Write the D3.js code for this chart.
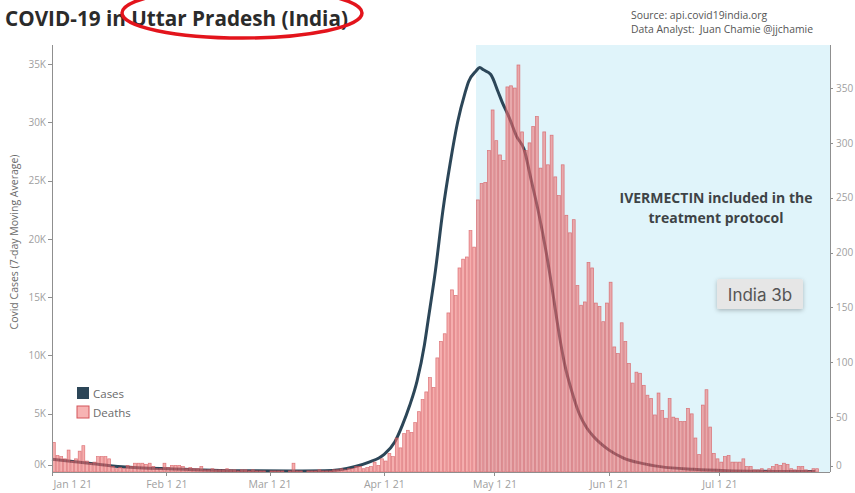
<!DOCTYPE html>
<html lang="en">
<head>
<meta charset="utf-8">
<script src="https://d3js.org/d3.v7.min.js"></script>
<style>
  body { margin: 0; background: #fff; }
  .axis text { fill: #a0a0a0; font: 10px "Open Sans", sans-serif; }
  .axis path, .axis line { stroke: #8f8f8f; shape-rendering: crispEdges; }
</style>
</head>
<body>
<div id="chart"></div>
<script>
// daily deaths, one value per day starting at deathStart
var deathStart = "2021-01-01";
var deaths = [
  27, 15, 14, 12, 20, 10, 12, 19, 24, 10,
  8, 9, 14, 14, 14, 12, 5, 3, 4, 3,
  6, 5, 8, 8, 8, 7, 8, 5, 3, 3,
  8, 4, 6, 6, 6, 5, 3, 4, 3, 3,
  5, 2, 2, 3, 2, 2, 2, 3, 2, 2,
  1, 2, 2, 1, 2, 1, 1, 1, 0, 1,
  1, 1, 1, 0, 1, 8, 1, 1, 0, 1,
  1, 1, 2, 1, 1, 1, 2, 2, 3, 2,
  3, 3, 5, 5, 3, 4, 5, 9, 6, 12,
  10, 17, 14, 31, 22, 35, 38, 36, 45, 55,
  66, 73, 86, 77, 104, 119, 126, 145, 166, 161,
  186, 194, 196, 220, 205, 248, 263, 264, 293, 330,
  302, 289, 284, 351, 352, 350, 371, 310, 293, 300,
  315, 324, 277, 310, 280, 307, 269, 252, 280, 234,
  218, 230, 170, 152, 155, 191, 186, 154, 151, 137,
  154, 173, 114, 108, 136, 119, 99, 81, 91, 90,
  79, 70, 67, 52, 72, 56, 49, 67, 50, 49,
  46, 46, 58, 53, 31, 16, 61, 75, 41, 17,
  12, 9, 14, 15, 9, 9, 9, 12, 5, 5,
  2, 2, 3, 1, 3, 5, 7, 6, 8, 7,
  3, 2, 5, 5, 2, 1, 3, 3
];

// 7-day moving average of cases
var caseDates = [
  "2021-01-01", "2021-01-11", "2021-01-20", "2021-02-03", "2021-02-21", "2021-03-07",
  "2021-03-16", "2021-03-20", "2021-03-24", "2021-03-28", "2021-04-01", "2021-04-04",
  "2021-04-06", "2021-04-08", "2021-04-10", "2021-04-12", "2021-04-13", "2021-04-15",
  "2021-04-17", "2021-04-19", "2021-04-21", "2021-04-23", "2021-04-24", "2021-04-26",
  "2021-04-27", "2021-04-28", "2021-04-30", "2021-05-02", "2021-05-03", "2021-05-05",
  "2021-05-07", "2021-05-09", "2021-05-11", "2021-05-13", "2021-05-15", "2021-05-17",
  "2021-05-18", "2021-05-20", "2021-05-22", "2021-05-24", "2021-05-26", "2021-05-28",
  "2021-06-01", "2021-06-05", "2021-06-10", "2021-06-15", "2021-06-24", "2021-07-03",
  "2021-07-12", "2021-07-20", "2021-07-27"
];
var caseValues = [
  1090, 750, 450, 260, 110, 90,
  110, 200, 450, 850, 1500, 2600,
  4000, 5700, 7800, 10900, 13000, 17300,
  22400, 26500, 30000, 32500, 33500, 34400,
  34700, 34500, 34100, 32600, 31800, 30400,
  28800, 27700, 25000, 22200, 18900, 15000,
  12900, 9300, 6900, 5000, 3800, 3000,
  1900, 1200, 740, 460, 230, 110,
  60, 50, 50
];

var monthTicks = ["2021-01-01", "2021-02-01", "2021-03-01", "2021-04-01", "2021-05-01", "2021-06-01", "2021-07-01"];
var caseTicks = [0, 5000, 10000, 15000, 20000, 25000, 30000, 35000];
var deathTicks = [0, 50, 100, 150, 200, 250, 300, 350];
var protocolStart = "2021-04-26";
var rangeEnd = "2021-07-31";

var W = 855, H = 493;
var plot = {left: 52, right: 830, top: 45, bottom: 472};

var parse = d3.utcParse("%Y-%m-%d");
var day0 = parse(deathStart);

var svg = d3.select("#chart").append("svg")
    .attr("width", W)
    .attr("height", H)
    .style("font-family", "'Open Sans', sans-serif");

var x = d3.scaleUtc().domain([day0, parse(rangeEnd)]).range([plot.left, plot.right]);
var yCases = d3.scaleLinear().domain([0, 36630]).range([plot.bottom, plot.top]);
var yDeaths = d3.scaleLinear().domain([0, 389.2]).range([plot.bottom, plot.top]);

var deathData = deaths.map(function(v, i) {
  return {date: d3.utcDay.offset(day0, i), value: v};
});
var caseData = caseDates.map(function(d, i) {
  return {date: parse(d), value: caseValues[i]};
});

// shaded period after the protocol change
svg.append("rect")
    .attr("x", x(parse(protocolStart)))
    .attr("y", plot.top)
    .attr("width", plot.right - x(parse(protocolStart)))
    .attr("height", plot.bottom - plot.top)
    .attr("fill", "#e0f4fa");

// cases line (drawn under the bars)
var line = d3.line()
    .x(function(d) { return x(d.date); })
    .y(function(d) { return yCases(d.value); })
    .curve(d3.curveMonotoneX);

svg.append("path")
    .datum(caseData)
    .attr("d", line)
    .attr("fill", "none")
    .attr("stroke", "#2c4658")
    .attr("stroke-width", 3)
    .attr("stroke-linejoin", "round");

// deaths bars
svg.append("g").selectAll("rect")
    .data(deathData)
    .enter().append("rect")
    .attr("x", function(d) { return x(d.date) + 0.4; })
    .attr("width", function(d) { return x(d3.utcDay.offset(d.date, 1)) - x(d.date) - 0.8; })
    .attr("y", function(d) { return yDeaths(d.value); })
    .attr("height", function(d) { return plot.bottom - yDeaths(d.value); })
    .attr("fill", "#ee7474")
    .attr("fill-opacity", 0.58)
    .attr("stroke", "#d4545a")
    .attr("stroke-opacity", 0.75)
    .attr("stroke-width", 0.7);

// axes
var gL = svg.append("g")
    .attr("class", "axis")
    .attr("transform", "translate(" + plot.left + ",0)")
    .call(d3.axisLeft(yCases).tickValues(caseTicks).tickSize(4).tickPadding(2)
      .tickFormat(function(d) { return (d / 1000) + "K"; }));
gL.select(".domain").attr("d", "M0," + plot.top + "V" + plot.bottom);
gL.selectAll(".tick").filter(function(d) { return d === 0; })
    .attr("transform", "translate(0," + (plot.bottom - 7) + ")");

var gR = svg.append("g")
    .attr("class", "axis")
    .attr("transform", "translate(" + plot.right + ",0)")
    .call(d3.axisRight(yDeaths).tickValues(deathTicks).tickSize(3).tickPadding(3));
gR.select(".domain").attr("d", "M0," + plot.top + "V" + plot.bottom);
gR.selectAll(".tick").filter(function(d) { return d === 0; })
    .attr("transform", "translate(0," + (plot.bottom - 6) + ")");

var gX = svg.append("g")
    .attr("class", "axis")
    .attr("transform", "translate(0," + plot.bottom + ")")
    .call(d3.axisBottom(x).tickValues(monthTicks.map(parse)).tickSize(4).tickPadding(5)
      .tickFormat(d3.utcFormat("%b %-d %y")));
gX.select(".domain").attr("d", "M" + plot.left + ",0H" + plot.right);
gX.selectAll("text").style("font-size", "10.5px");
gX.selectAll(".tick").filter(function(d, i) { return i === 0; })
    .select("text").attr("text-anchor", "start").attr("x", 1);

svg.append("text")
    .attr("transform", "translate(18,242) rotate(-90)")
    .attr("text-anchor", "middle")
    .style("font-size", "10.5px")
    .attr("fill", "#6b6b6b")
    .text("Covid Cases (7-day Moving Average)");

// title and credits
svg.append("text")
    .attr("x", 5)
    .attr("y", 26)
    .style("font-size", "20.7px")
    .style("font-weight", "bold")
    .attr("fill", "#2b2b2b")
    .text("COVID-19 in Uttar Pradesh (India)");

svg.append("ellipse")
    .attr("cx", 242)
    .attr("cy", 13)
    .attr("rx", 120)
    .attr("ry", 25)
    .attr("fill", "none")
    .attr("stroke", "#e3141c")
    .attr("stroke-width", 3.5);

svg.append("text")
    .attr("x", 631)
    .attr("y", 19)
    .style("font-size", "10.4px")
    .attr("fill", "#555")
    .text("Source: api.covid19india.org");
svg.append("text")
    .attr("x", 631)
    .attr("y", 33)
    .style("font-size", "10.4px")
    .attr("fill", "#555")
    .attr("xml:space", "preserve")
    .text("Data Analyst:  Juan Chamie @jjchamie");

// legend
var legend = svg.append("g").attr("transform", "translate(77,387)");
legend.append("rect").attr("width", 12).attr("height", 12).attr("fill", "#2c4658");
legend.append("rect").attr("y", 19).attr("width", 12).attr("height", 12)
    .attr("fill", "#f7b3b3").attr("stroke", "#d4545a").attr("stroke-width", 1);
legend.append("text").attr("x", 16).attr("y", 11).style("font-size", "11.5px")
    .attr("fill", "#6a6a6a").text("Cases");
legend.append("text").attr("x", 16).attr("y", 30).style("font-size", "11.5px")
    .attr("fill", "#6a6a6a").text("Deaths");

// annotation
svg.append("text")
    .attr("x", 716)
    .attr("y", 203)
    .attr("text-anchor", "middle")
    .style("font-size", "14px")
    .style("font-weight", "bold")
    .attr("fill", "#3e4346")
    .text("IVERMECTIN included in the");
svg.append("text")
    .attr("x", 716)
    .attr("y", 223)
    .attr("text-anchor", "middle")
    .style("font-size", "14px")
    .style("font-weight", "bold")
    .attr("fill", "#3e4346")
    .text("treatment protocol");

var defs = svg.append("defs");
defs.append("filter").attr("id", "shadow")
    .attr("x", "-20%").attr("y", "-30%").attr("width", "140%").attr("height", "170%")
  .append("feDropShadow")
    .attr("dx", 0).attr("dy", 1.5).attr("stdDeviation", 2)
    .attr("flood-color", "#000").attr("flood-opacity", 0.25);

svg.append("rect")
    .attr("x", 717)
    .attr("y", 279)
    .attr("width", 86)
    .attr("height", 30)
    .attr("rx", 2)
    .attr("fill", "#e6e6e6")
    .attr("filter", "url(#shadow)");
svg.append("text")
    .attr("x", 760)
    .attr("y", 301)
    .attr("text-anchor", "middle")
    .style("font-family", "Inter, sans-serif")
    .style("font-size", "17px")
    .attr("fill", "#555")
    .text("India 3b");
</script>
</body>
</html>
